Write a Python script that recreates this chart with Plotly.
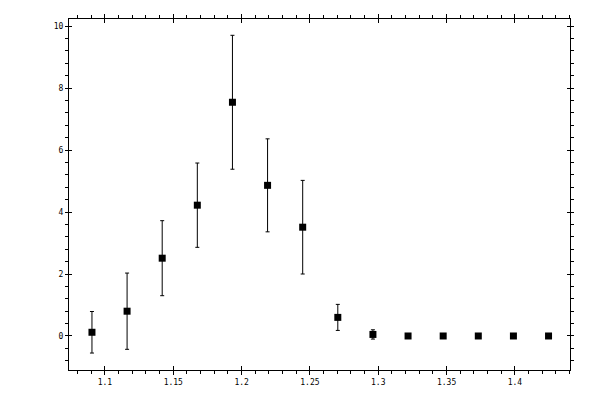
import plotly.graph_objects as go

x_vals = [1.0905, 1.1162, 1.1419, 1.1676, 1.1933, 1.2190, 1.2447,
          1.2704, 1.2961, 1.3218, 1.3475, 1.3732, 1.3989, 1.4246]
y_vals = [0.12, 0.80, 2.51, 4.22, 7.54, 4.86, 3.51,
          0.60, 0.05, 0.0, 0.0, 0.0, 0.0, 0.0]
y_err = [0.67, 1.23, 1.21, 1.36, 2.16, 1.50, 1.51,
         0.42, 0.15, 0.0, 0.0, 0.0, 0.0, 0.0]

x_ticks = [1.1, 1.15, 1.2, 1.25, 1.3, 1.35, 1.4]
x_ticktext = ["1.1", "1.15", "1.2", "1.25", "1.3", "1.35", "1.4"]
y_ticks = [0, 2, 4, 6, 8, 10]
y_ticktext = ["0", "2", "4", "6", "8", "10"]

x_range = [1.0737, 1.4403]
y_range = [-1.097, 10.226]

fig = go.Figure()
fig.add_trace(go.Scatter(
    x=x_vals, y=y_vals, mode="markers",
    marker=dict(symbol="square", size=7, color="black"),
    error_y=dict(type="data", array=y_err, visible=True,
                 color="black", thickness=1, width=2),
    showlegend=False,
))
# invisible trace so the overlay axes (inner half of major ticks) get drawn
fig.add_trace(go.Scatter(x=[None], y=[None], xaxis="x2", yaxis="y2",
                         showlegend=False, hoverinfo="skip"))

axis_font = dict(family="DejaVu Sans Mono", size=8, color="black")

# page body adds 8px, so margins are shifted to keep the plot box in place
fig.update_layout(
    width=600, height=400,
    margin=dict(l=61, r=38, t=11, b=38),
    paper_bgcolor="white", plot_bgcolor="white",
    font=axis_font,
    xaxis=dict(range=x_range, tickmode="array", tickvals=x_ticks,
               ticktext=x_ticktext, ticks="outside", ticklen=4,
               tickwidth=1, tickcolor="black", showline=True,
               linecolor="black", linewidth=1, mirror="ticks",
               showgrid=False, zeroline=False, tickfont=axis_font,
               automargin=False,
               minor=dict(dtick=0.01, tick0=0, ticks="outside", ticklen=3,
                          tickcolor="black", showgrid=False)),
    yaxis=dict(range=y_range, tickmode="array", tickvals=y_ticks,
               ticktext=y_ticktext, ticks="outside", ticklen=3,
               tickwidth=1, tickcolor="black", showline=True,
               linecolor="black", linewidth=1, mirror="ticks",
               showgrid=False, zeroline=False, tickfont=axis_font,
               automargin=False,
               minor=dict(dtick=0.4, tick0=0, ticks="outside", ticklen=3,
                          tickcolor="black", showgrid=False)),
    xaxis2=dict(range=x_range, overlaying="x", anchor="y", side="bottom",
                tickmode="array", tickvals=x_ticks, ticks="inside",
                ticklen=4, tickwidth=1, tickcolor="black", mirror="ticks",
                showline=False, showticklabels=False, showgrid=False,
                zeroline=False, automargin=False),
    yaxis2=dict(range=y_range, overlaying="y", anchor="x", side="left",
                tickmode="array", tickvals=y_ticks, ticks="inside",
                ticklen=3, tickwidth=1, tickcolor="black", mirror="ticks",
                showline=False, showticklabels=False, showgrid=False,
                zeroline=False, automargin=False),
)

fig.write_html("out.html")
